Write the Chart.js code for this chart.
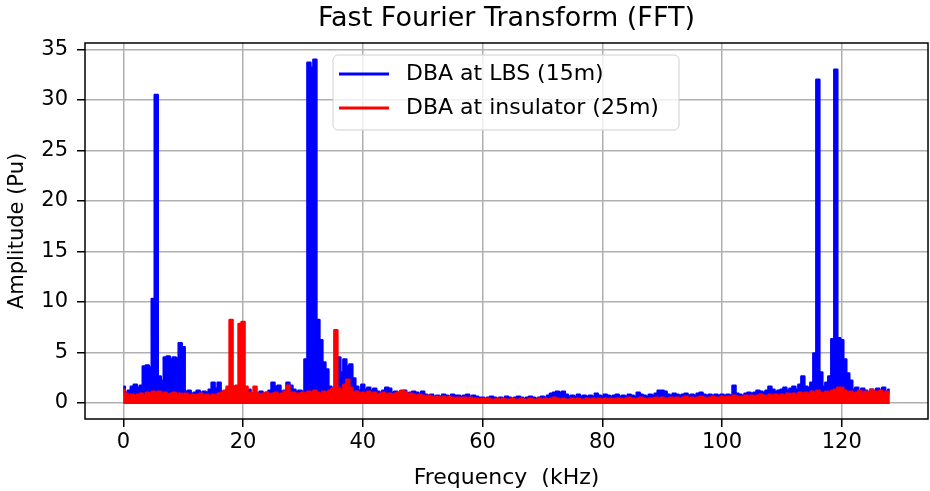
<!DOCTYPE html>
<html>
<head>
<meta charset="utf-8">
<script src="https://cdn.jsdelivr.net/npm/chart.js@4.4.1/dist/chart.umd.min.js"></script>
<style>
  html, body { margin: 0; padding: 0; background: #fff; }
  #fftChart { display: block; }
</style>
</head>
<body>
<canvas id="fftChart" width="930" height="491"></canvas>
<script>
// FFT magnitude, one value per 0.5 kHz bin, 0 .. 128 kHz
const binWidth = 0.5;
const seriesNames = ['DBA at LBS (15m)', 'DBA at insulator (25m)'];

const lbsAmplitude = [
  1.6, 1.0, 1.2, 1.6, 1.8, 1.5, 1.7, 3.6, 3.7, 3.5, 10.3, 30.5, 2.6, 2.2, 4.5, 4.6, 4.3, 4.5, 4.4, 5.9,   // 0-10
  5.5, 1.1, 1.2, 0.9, 1.0, 1.2, 1.0, 1.1, 1.0, 1.3, 2.0, 1.4, 2.0, 1.1, 1.0, 1.3, 1.2, 1.6, 1.2, 1.4,     // 10-20
  1.2, 1.1, 1.3, 0.9, 1.0, 0.9, 1.1, 0.9, 1.0, 1.2, 2.0, 1.6, 1.7, 1.1, 1.2, 2.0, 1.7, 1.3, 1.1, 1.2,     // 20-30
  1.1, 4.3, 33.7, 33.2, 34.0, 8.2, 6.2, 4.0, 3.3, 1.6, 1.4, 1.6, 4.5, 3.0, 4.3, 3.6, 3.8, 2.4, 1.6, 1.2, // 30-40
  1.8, 1.3, 1.5, 1.2, 1.4, 1.1, 1.0, 1.2, 1.5, 1.4, 1.0, 1.1, 0.9, 1.1, 1.2, 0.9, 1.0, 1.1, 1.0, 0.9,     // 40-50
  1.1, 0.8, 0.7, 0.8, 0.6, 0.7, 0.6, 0.8, 0.7, 0.6, 0.8, 0.7, 0.7, 0.6, 0.7, 0.8, 0.6, 0.7, 0.6, 0.5,     // 50-60
  0.5, 0.4, 0.5, 0.6, 0.5, 0.4, 0.5, 0.4, 0.6, 0.5, 0.4, 0.5, 0.6, 0.5, 0.4, 0.5, 0.6, 0.5, 0.4, 0.5,     // 60-70
  0.6, 0.5, 0.7, 0.9, 1.0, 1.1, 1.0, 1.1, 0.8, 0.6, 0.7, 0.6, 0.8, 0.6, 0.7, 0.6, 0.7, 0.6, 0.9, 0.7,     // 70-80
  0.6, 0.8, 0.7, 0.6, 0.7, 0.8, 0.6, 0.7, 0.6, 0.8, 0.7, 0.6, 1.0, 0.8, 0.7, 0.6, 0.8, 0.7, 0.9, 1.2,     // 80-90
  1.2, 1.1, 0.8, 0.7, 0.9, 0.8, 0.7, 0.8, 0.9, 0.7, 0.8, 0.7, 0.9, 1.0, 0.8, 0.7, 0.8, 0.7, 0.8, 0.7,     // 90-100
  0.8, 0.7, 0.8, 0.7, 1.7, 0.9, 0.8, 0.7, 0.9, 1.0, 0.9, 1.0, 1.2, 1.1, 1.0, 1.2, 1.6, 1.3, 1.1, 1.2,     // 100-110
  1.3, 1.5, 1.2, 1.4, 1.6, 1.3, 1.8, 2.6, 1.6, 1.5, 2.0, 4.9, 32.0, 3.0, 1.6, 2.0, 2.6, 6.3, 33.0, 6.4,   // 110-120
  6.2, 4.3, 2.9, 2.2, 1.3, 1.5, 1.1, 1.4, 1.2, 1.0, 1.3, 1.1, 1.4, 1.2, 1.5, 1.1, 1.3                    // 120-128
];

const insulatorAmplitude = [
  1.3, 0.9, 0.6, 0.8, 0.7, 0.8, 0.9, 0.7, 1.0, 0.9, 1.1, 1.0, 1.1, 0.9, 1.0, 0.8, 0.9, 1.0, 0.8, 0.9,     // 0-10
  0.8, 0.9, 0.7, 0.8, 0.7, 0.8, 0.9, 0.7, 0.8, 0.6, 0.8, 0.7, 0.9, 1.0, 1.2, 1.6, 8.2, 1.5, 1.7, 7.8,     // 10-20
  8.0, 1.6, 1.0, 0.9, 1.6, 0.9, 0.8, 0.9, 1.0, 0.8, 0.9, 1.0, 0.8, 0.9, 1.1, 1.7, 0.9, 1.0, 0.8, 0.9,     // 20-30
  1.0, 0.9, 1.1, 1.0, 1.2, 1.0, 0.9, 1.1, 1.0, 1.2, 1.4, 7.2, 1.4, 1.2, 1.8, 2.3, 1.5, 1.0, 1.1, 0.9,     // 30-40
  1.0, 0.9, 1.1, 0.9, 1.0, 0.8, 0.9, 1.0, 0.8, 0.9, 0.8, 0.9, 1.0, 1.2, 1.1, 0.8, 0.9, 0.8, 0.7, 0.8,     // 40-50
  0.7, 0.6, 0.7, 0.6, 0.5, 0.6, 0.5, 0.6, 0.5, 0.6, 0.5, 0.4, 0.5, 0.4, 0.5, 0.4, 0.5, 0.4, 0.4, 0.3,     // 50-60
  0.4, 0.3, 0.4, 0.3, 0.3, 0.4, 0.3, 0.4, 0.3, 0.3, 0.4, 0.3, 0.3, 0.4, 0.3, 0.3, 0.4, 0.3, 0.3, 0.4,     // 60-70
  0.3, 0.4, 0.3, 0.4, 0.5, 0.4, 0.3, 0.4, 0.3, 0.3, 0.4, 0.3, 0.4, 0.3, 0.3, 0.4, 0.3, 0.4, 0.3, 0.4,     // 70-80
  0.3, 0.4, 0.3, 0.4, 0.3, 0.4, 0.4, 0.3, 0.4, 0.5, 0.4, 0.3, 0.4, 0.5, 0.4, 0.3, 0.4, 0.4, 0.5, 0.4,     // 80-90
  0.5, 0.4, 0.4, 0.5, 0.4, 0.5, 0.4, 0.5, 0.6, 0.4, 0.5, 0.4, 0.5, 0.6, 0.5, 0.4, 0.5, 0.6, 0.5, 0.5,     // 90-100
  0.6, 0.5, 0.6, 0.5, 0.7, 0.6, 0.5, 0.6, 0.7, 0.6, 0.7, 0.6, 0.7, 0.8, 0.7, 0.6, 0.8, 0.7, 0.8, 0.7,     // 100-110
  0.8, 0.7, 0.9, 0.8, 0.9, 0.8, 1.0, 0.9, 1.0, 0.9, 1.1, 1.0, 1.2, 1.0, 0.9, 1.1, 1.0, 1.2, 1.3, 1.5,     // 110-120
  1.5, 1.2, 1.0, 1.1, 0.9, 1.0, 1.2, 0.9, 1.1, 1.0, 1.3, 1.1, 1.0, 1.2, 0.9, 1.1, 1.0                    // 120-128
];

const xTicks = [0, 20, 40, 60, 80, 100, 120];
const yTicks = [0, 5, 10, 15, 20, 25, 30, 35];

const FONT = 'DejaVu Sans';
const seriesColors = ['#0000ff', '#ff0000'];

const freqs = lbsAmplitude.map((_, i) => i * binWidth);
const toPoints = arr => arr.map((v, i) => ({ x: freqs[i], y: v }));

// title, frame and the boxed legend are drawn by hand
const decorations = {
    id: 'decorations',
    afterDatasetsDraw(chart) {
        const { ctx, chartArea: a } = chart;
        ctx.save();
        ctx.strokeStyle = '#000';
        ctx.lineWidth = 1.5;
        ctx.strokeRect(a.left, a.top, a.right - a.left, a.bottom - a.top);
        ctx.restore();
    },
    afterDraw(chart) {
        const { ctx, chartArea: a } = chart;
        ctx.save();
        ctx.fillStyle = '#000';
        ctx.font = `27px "${FONT}"`;
        ctx.textAlign = 'center';
        ctx.textBaseline = 'middle';
        ctx.fillText('Fast Fourier Transform (FFT)', (a.left + a.right) / 2, 19);

        // legend box
        const bx = a.left + 248, by = a.top + 12, bw = 346, bh = 75;
        ctx.beginPath();
        ctx.roundRect(bx, by, bw, bh, 5);
        ctx.fillStyle = 'rgba(255,255,255,0.8)';
        ctx.fill();
        ctx.strokeStyle = '#d0d0d0';
        ctx.lineWidth = 1;
        ctx.stroke();

        ctx.font = `22px "${FONT}"`;
        ctx.textAlign = 'left';
        seriesNames.forEach((name, i) => {
            const y = by + 19 + i * 34;
            ctx.strokeStyle = seriesColors[i];
            ctx.lineWidth = 3;
            ctx.beginPath();
            ctx.moveTo(bx + 6, y);
            ctx.lineTo(bx + 56, y);
            ctx.stroke();
            ctx.fillStyle = '#000';
            ctx.fillText(name, bx + 73, y);
        });
        ctx.restore();
    }
};

const gridStyle = {
    color: '#b0b0b0',
    lineWidth: 1.5,
    tickColor: '#000',
    tickLength: 8,
    tickWidth: 1.5
};

const seriesStyle = i => ({
    label: seriesNames[i],
    borderColor: seriesColors[i],
    backgroundColor: seriesColors[i],
    fill: { value: -0.1 },
    stepped: 'middle',
    borderWidth: 2.5,
    borderJoinStyle: 'round',
    pointRadius: 0
});

new Chart(document.getElementById('fftChart'), {
    type: 'line',
    data: {
        datasets: [
            { ...seriesStyle(0), data: toPoints(lbsAmplitude), order: 2 },
            { ...seriesStyle(1), data: toPoints(insulatorAmplitude), order: 1 }
        ]
    },
    options: {
        responsive: false,
        animation: false,
        devicePixelRatio: 1,
        layout: { padding: { top: 43, right: 2, left: 0, bottom: 0 } },
        plugins: {
            legend: { display: false },
            title: { display: false },
            tooltip: { enabled: false }
        },
        scales: {
            x: {
                type: 'linear',
                min: -6.4,
                max: 134.4,
                afterBuildTicks: s => { s.ticks = xTicks.map(v => ({ value: v })); },
                afterFit: s => { s.height = 72; },
                grid: gridStyle,
                border: { display: false },
                ticks: { font: { family: FONT, size: 21 }, color: '#000', padding: 3, maxRotation: 0 },
                title: {
                    display: true,
                    text: 'Frequency  (kHz)',
                    color: '#000',
                    font: { family: FONT, size: 22 },
                    padding: { top: 0, bottom: 0 }
                }
            },
            y: {
                type: 'linear',
                min: -1.6,
                max: 35.65,
                afterBuildTicks: s => { s.ticks = yTicks.map(v => ({ value: v })); },
                afterFit: s => { s.width = 85; },
                grid: gridStyle,
                border: { display: false },
                ticks: { font: { family: FONT, size: 21 }, color: '#000', padding: 9 },
                title: {
                    display: true,
                    text: 'Amplitude (Pu)',
                    color: '#000',
                    font: { family: FONT, size: 21 },
                    padding: { top: 5, bottom: 0 }
                }
            }
        }
    },
    plugins: [decorations]
});
</script>
</body>
</html>
